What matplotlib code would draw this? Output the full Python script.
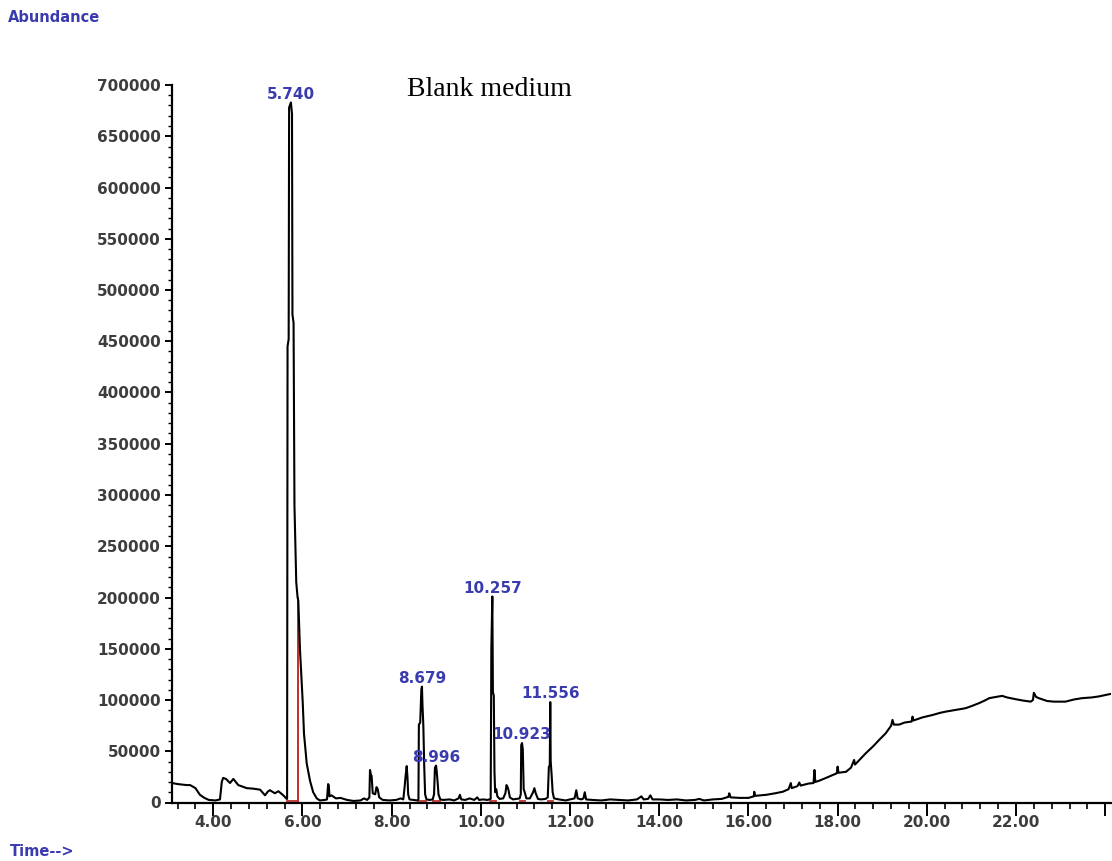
import numpy as np
import matplotlib
matplotlib.use("Agg")
import matplotlib.pyplot as plt
from matplotlib.ticker import MultipleLocator, FuncFormatter

# chromatogram trace: retention time (min), abundance
t_early = [3.074, 3.2, 3.3, 3.4, 3.48, 3.6, 3.70, 3.8, 3.9, 4.05, 4.15, 4.19, 4.22,
           4.285, 4.375, 4.45, 4.56, 4.75, 4.9, 5.05, 5.16, 5.22, 5.27, 5.38, 5.46,
           5.57, 5.645]
a_early = [19000, 18000, 17500, 17000, 17000, 14000, 7500, 4500, 2500, 2000, 3000, 20000, 24000,
           23000, 19000, 23000, 17000, 14000, 13500, 12500, 7000, 10500, 12000, 9000, 11000,
           7000, 3500]

t_main = [5.655, 5.665, 5.69, 5.70, 5.74, 5.765, 5.775, 5.80, 5.82, 5.86, 5.89, 5.906,
          5.944, 6.005, 6.034, 6.095, 6.17, 6.24, 6.32, 6.39, 6.5]
a_main = [3500, 445000, 452000, 678000, 683000, 672000, 476000, 468000, 290000, 215000, 200000, 197000,
          149000, 98000, 67000, 38000, 21000, 10000, 4000, 2000, 2500]

t_mid = [6.55, 6.575, 6.59, 6.605, 6.65, 6.75, 6.85, 7.0, 7.15, 7.3, 7.38, 7.45, 7.50,
         7.514, 7.535, 7.55, 7.575, 7.63, 7.66, 7.687, 7.72, 7.8, 7.95, 8.1, 8.2, 8.26,
         8.29, 8.31, 8.337, 8.355, 8.37, 8.40, 8.5, 8.58]
a_mid = [3000, 18000, 16500, 6000, 7000, 4000, 4500, 2500, 1500, 2000, 4000, 2500, 5000,
         31700, 27000, 26000, 9000, 8000, 15000, 13000, 5000, 2500, 2000, 2500, 4000, 3000,
         15000, 25000, 35500, 24000, 8000, 3000, 2500, 2000]

t_cluster = [8.60, 8.61, 8.64, 8.665, 8.679, 8.69, 8.71, 8.73, 8.75, 8.78, 8.85, 8.92,
             8.95, 8.97, 8.996, 9.01, 9.03, 9.05, 9.09, 9.15, 9.3, 9.4, 9.5, 9.53, 9.56,
             9.65, 9.75, 9.85, 9.92, 9.96, 10.05, 10.15, 10.22, 10.235, 10.257, 10.27,
             10.29, 10.305, 10.32, 10.345, 10.37, 10.42, 10.5, 10.55, 10.575, 10.6, 10.62,
             10.65, 10.72, 10.8, 10.87, 10.895, 10.905, 10.923, 10.94, 10.96, 10.99, 11.02,
             11.1, 11.17, 11.2, 11.23, 11.28, 11.35, 11.45, 11.5, 11.525, 11.545, 11.556,
             11.566, 11.585, 11.61, 11.64, 11.75, 11.9, 12.0, 12.1, 12.14, 12.17, 12.25,
             12.3, 12.33, 12.36, 12.5]
a_cluster = [3000, 76000, 78000, 110000, 113000, 96000, 75000, 35000, 8000, 3000, 2500, 3000,
             8000, 34000, 36000, 30000, 20000, 8000, 3000, 2500, 3000, 2000, 4000, 7500, 3000,
             2500, 4000, 2500, 5000, 2500, 3000, 2500, 3500, 150000, 201000, 108000,
             104000, 30000, 10000, 13000, 6000, 3500, 4000, 9000, 17000, 15000, 12000,
             5000, 3000, 3500, 4000, 8000, 56000, 58000, 52000, 13000, 9000, 4000,
             4000, 10000, 14000, 9000, 3500, 3000, 3500, 5000, 35000, 36000, 98000,
             40000, 28000, 10000, 4000, 3000, 2000, 3000, 4000, 12000, 4000, 3000,
             4000, 10000, 3000, 2500]

t_late = [12.7, 12.9, 13.1, 13.3, 13.5, 13.6, 13.65, 13.75, 13.8, 13.85, 14.0, 14.2, 14.4,
          14.6, 14.8, 14.9, 15.0, 15.2, 15.4, 15.55, 15.57, 15.6, 15.8, 16.0, 16.12, 16.13,
          16.15, 16.4, 16.6, 16.77, 16.9, 16.95, 16.97, 17.1, 17.14, 17.17, 17.35, 17.46,
          17.48, 17.50, 17.6, 17.74, 17.9, 17.98, 18.0, 18.02, 18.19, 18.3, 18.37, 18.39,
          18.5, 18.63, 18.8, 18.93, 19.08, 19.2, 19.23, 19.26, 19.38, 19.5, 19.66, 19.68,
          19.7, 19.9, 20.13, 20.3, 20.43, 20.6, 20.87, 21.0, 21.17, 21.3, 21.40, 21.55,
          21.69, 21.8, 21.99, 22.15, 22.33, 22.38, 22.40, 22.45, 22.51, 22.7, 22.85, 23.11,
          23.3, 23.48, 23.7, 23.86, 24.13]
a_late = [2000, 3000, 2500, 2000, 3000, 6000, 3000, 3500, 7000, 3000, 3000, 2500, 3000,
          2000, 2500, 3500, 2000, 3000, 3500, 5500, 9000, 5000, 4500, 4500, 6000, 10500,
          6500, 7500, 9000, 10500, 13000, 19000, 14000, 16000, 19500, 16500, 18500, 19000,
          31700, 20000, 21500, 24000, 27000, 28500, 35000, 29000, 30000, 34000, 41500, 37000,
          42000, 48000, 55000, 61000, 67600, 75000, 80600, 76000, 76000, 78000, 79000, 83800,
          80000, 83000, 85400, 87500, 88700, 90000, 92000, 94000, 96900, 99500, 101800, 103000,
          104000, 102500, 100800, 99500, 98400, 100000, 107000, 103000, 101800, 99000, 98400, 98400,
          100500, 101800, 102500, 103500, 106000]

# labelled peaks (retention time shown above apex)
peak_times = [5.740, 8.679, 8.996, 10.257, 10.923, 11.556]
peak_heights = [683000, 113000, 36000, 201000, 58000, 98000]

# integration marks (red)
drop_time = 5.89
drop_height = 200000
red_base = [(5.655, 5.89), (8.60, 8.76), (8.93, 9.08), (10.21, 10.33), (10.88, 10.98), (11.50, 11.62)]

t = np.array(t_early + t_main + t_mid + t_cluster + t_late)
a = np.array(a_early + a_main + a_mid + a_cluster + a_late)

W, H = 1112, 861
fig = plt.figure(figsize=(W / 100, H / 100), dpi=100)
ax = fig.add_axes([172 / W, 1 - 802.5 / H, 939 / W, (802.5 - 85) / H])

tick_col = "#3d3d3d"
blue = "#3b3bb0"

ax.plot(t, a, color="black", lw=1.5, zorder=3)

# red integration baseline / drop line
for s, e in red_base:
    ax.plot([s, e], [1500, 1500], color="#c0302c", lw=1.3, zorder=2)
ax.plot([drop_time, drop_time], [1500, drop_height], color="#c0302c", lw=1.4, zorder=2)

for pt, ph in zip(peak_times, peak_heights):
    ax.annotate(f"{pt:.3f}", (pt, ph), xytext=(0, 0.5), textcoords="offset points",
                ha="center", va="bottom", color=blue, fontsize=11, fontweight="bold", zorder=4)

ax.set_xlim(3.074, 24.13)
ax.set_ylim(0, 700000)

ax.spines["top"].set_visible(False)
ax.spines["right"].set_visible(False)
ax.spines["left"].set_linewidth(1.6)
ax.spines["bottom"].set_linewidth(1.6)

ax.xaxis.set_major_locator(MultipleLocator(2))
ax.xaxis.set_minor_locator(MultipleLocator(0.4))
ax.yaxis.set_major_locator(MultipleLocator(50000))
ax.yaxis.set_minor_locator(MultipleLocator(10000))
# the last major tick (24) is drawn without a label, as in the original
ax.xaxis.set_major_formatter(FuncFormatter(lambda v, p: f"{v:.2f}" if v < 23 else ""))
ax.yaxis.set_major_formatter(FuncFormatter(lambda v, p: f"{int(round(v))}"))

ax.tick_params(axis="x", which="major", length=9, width=1.4, pad=0, labelsize=11, labelcolor=tick_col)
ax.tick_params(axis="x", which="minor", length=4, width=1.2)
ax.tick_params(axis="y", which="major", length=5, width=1.4, pad=3, labelsize=11, labelcolor=tick_col)
ax.tick_params(axis="y", which="minor", length=3, width=1.0)
for lab in ax.get_xticklabels() + ax.get_yticklabels():
    lab.set_fontweight("bold")

fig.text(407 / W, 1 - 90 / H, "Blank medium", family="Liberation Serif", fontsize=20,
         ha="left", va="center", color="black")
fig.text(8 / W, 1 - 18 / H, "Abundance", fontsize=10.5, fontweight="bold", color=blue,
         ha="left", va="center")
fig.text(10 / W, 1 - 851 / H, "Time-->", fontsize=10.5, fontweight="bold", color=blue,
         ha="left", va="center")

fig.savefig("out.png", dpi=100)
